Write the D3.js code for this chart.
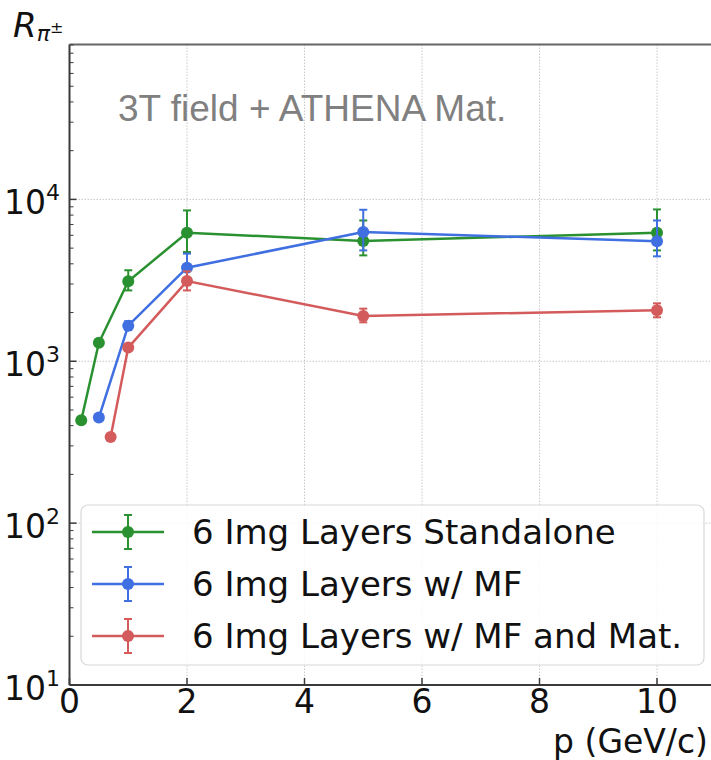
<!DOCTYPE html>
<html>
<head>
<meta charset="utf-8">
<script src="https://cdn.jsdelivr.net/npm/d3@7"></script>
<style>
  body { margin: 0; background: #fff; }
  svg { display: block; font-family: "DejaVu Sans", sans-serif; }
</style>
</head>
<body>
<div id="chart"></div>
<script>
// --数据--
var seriesNames = ["6 Img Layers Standalone", "6 Img Layers w/ MF", "6 Img Layers w/ MF and Mat."];
var seriesColors = ["#2a9130", "#3f6fe0", "#d45b5b"];

var pStandalone = [0.2, 0.5, 1, 2, 5, 10];
var rStandalone = [432, 1300, 3120, 6230, 5530, 6230];
var loStandalone = [415, 1250, 2740, 4730, 4510, 4840];
var hiStandalone = [450, 1350, 3650, 8550, 7410, 8670];

var pMF = [0.5, 1, 2, 5, 10];
var rMF = [449, 1660, 3785, 6285, 5508];
var loMF = [435, 1560, 3120, 4840, 4450];
var hiMF = [463, 1770, 4625, 8630, 7410];

var pMat = [0.7, 1, 2, 5, 10];
var rMat = [341, 1215, 3130, 1905, 2067];
var loMat = [330, 1170, 2740, 1740, 1870];
var hiMat = [352, 1260, 3595, 2114, 2280];

var xTicks = [0, 2, 4, 6, 8, 10];
var yTicks = [10, 100, 1000, 10000];

var series = [
    { p: pStandalone, r: rStandalone, lo: loStandalone, hi: hiStandalone },
    { p: pMF, r: rMF, lo: loMF, hi: hiMF },
    { p: pMat, r: rMat, lo: loMat, hi: hiMat }
].map(function (s, i) {
    return {
        name: seriesNames[i],
        color: seriesColors[i],
        pts: s.p.map(function (p, j) {
            return { p: p, r: s.r[j], lo: s.lo[j], hi: s.hi[j] };
        })
    };
});

// --画布--
var W = 711, H = 760;
var mLeft = 69.5, mTop = 44.5, mBottom = 685;
var svg = d3.select("#chart").append("svg").attr("width", W).attr("height", H);

var x = d3.scaleLinear().domain([0, 11]).range([mLeft, mLeft + 11 * 58.75]);
var y = d3.scaleLog().domain([10, Math.pow(10, 4.957)]).range([mBottom, mTop]);
var mRight = x(11);

// --网格--
var grid = svg.append("g");
grid.selectAll(".gx").data(xTicks.slice(1)).enter().append("line")
    .attr("x1", d => x(d)).attr("x2", d => x(d))
    .attr("y1", mTop).attr("y2", mBottom)
    .attr("stroke", "#c8c8c8").attr("stroke-width", 1).attr("stroke-dasharray", "1.5,1.5");
grid.selectAll(".gy").data(yTicks.slice(1)).enter().append("line")
    .attr("x1", mLeft).attr("x2", mRight)
    .attr("y1", d => y(d)).attr("y2", d => y(d))
    .attr("stroke", "#c8c8c8").attr("stroke-width", 1).attr("stroke-dasharray", "1.5,1.5");

// --注释文字--
svg.append("text")
    .attr("x", 118).attr("y", 121)
    .attr("font-family", "Liberation Sans, Arial, sans-serif")
    .attr("font-size", 37).attr("fill", "#808080")
    .text("3T field + ATHENA Mat.");

// --数据线--
var line = d3.line().x(d => x(d.p)).y(d => y(d.r));
var gs = svg.selectAll(".series").data(series).enter().append("g");
gs.append("path")
    .attr("d", d => line(d.pts))
    .attr("fill", "none").attr("stroke", d => d.color).attr("stroke-width", 2.5);
gs.each(function (s) {
    var g = d3.select(this);
    var eb = g.selectAll(".eb").data(s.pts).enter().append("g");
    eb.append("line")
        .attr("x1", d => x(d.p)).attr("x2", d => x(d.p))
        .attr("y1", d => y(d.lo)).attr("y2", d => y(d.hi))
        .attr("stroke", s.color).attr("stroke-width", 2);
    ["lo", "hi"].forEach(function (k) {
        eb.append("line")
            .attr("x1", d => x(d.p) - 4).attr("x2", d => x(d.p) + 4)
            .attr("y1", d => y(d[k])).attr("y2", d => y(d[k]))
            .attr("stroke", s.color).attr("stroke-width", 2);
    });
    eb.append("circle")
        .attr("cx", d => x(d.p)).attr("cy", d => y(d.r))
        .attr("r", 6).attr("fill", s.color);
});

// --坐标轴--
var ax = svg.append("g").attr("stroke", "#3a3a3a");
ax.append("line").attr("x1", mLeft).attr("x2", mLeft).attr("y1", mTop).attr("y2", mBottom).attr("stroke-width", 2);
ax.append("line").attr("x1", mLeft).attr("x2", mRight).attr("y1", mBottom).attr("y2", mBottom).attr("stroke-width", 2);
ax.append("line").attr("x1", mLeft).attr("x2", mRight).attr("y1", mTop).attr("y2", mTop).attr("stroke-width", 2).attr("stroke", "#666");

// x ticks (inward)
ax.selectAll(".xt").data(xTicks).enter().append("line")
    .attr("x1", d => x(d)).attr("x2", d => x(d))
    .attr("y1", mBottom).attr("y2", mBottom - 7).attr("stroke-width", 1.5);
svg.selectAll(".xl").data(xTicks).enter().append("text")
    .attr("x", d => x(d)).attr("y", 713)
    .attr("text-anchor", "middle").attr("font-size", 33).attr("fill", "#111")
    .text(d => d);

// y ticks major + minor (inward)
var minor = [];
[10, 100, 1000, 10000].forEach(function (b) {
    for (var k = 2; k <= 9; k++) if (b * k <= y.domain()[1]) minor.push(b * k);
});
ax.selectAll(".ymn").data(minor).enter().append("line")
    .attr("x1", mLeft).attr("x2", mLeft + 4)
    .attr("y1", d => y(d)).attr("y2", d => y(d)).attr("stroke-width", 1);
ax.selectAll(".ymj").data(yTicks).enter().append("line")
    .attr("x1", mLeft).attr("x2", mLeft + 7)
    .attr("y1", d => y(d)).attr("y2", d => y(d)).attr("stroke-width", 1.5);
var yl = svg.selectAll(".yl").data(yTicks).enter().append("text")
    .attr("x", 60).attr("y", d => y(d) + 15)
    .attr("text-anchor", "end").attr("font-size", 33).attr("fill", "#111");
yl.append("tspan").text("10");
yl.append("tspan").attr("font-size", 22).attr("dy", -14).text(d => Math.round(Math.log10(d)));

// axis titles
svg.append("text").attr("x", 708).attr("y", 753).attr("text-anchor", "end")
    .attr("font-size", 33).attr("fill", "#111").text("p (GeV/c)");
var yt = svg.append("text").attr("x", 13).attr("y", 37).attr("fill", "#111");
yt.append("tspan").attr("font-size", 34).attr("font-style", "italic").text("R");
yt.append("tspan").attr("font-size", 22).attr("font-style", "italic").attr("dy", 4).text("π");
yt.append("tspan").attr("font-size", 16).attr("dy", -8).text("±");

// --图例--
var lg = svg.append("g");
lg.append("rect")
    .attr("x", 81).attr("y", 505).attr("width", 623).attr("height", 160).attr("rx", 7)
    .attr("fill", "#fff").attr("fill-opacity", 0.85).attr("stroke", "#d8d8d8").attr("stroke-width", 1.2);
var li = lg.selectAll(".li").data(series).enter().append("g")
    .attr("transform", (d, i) => "translate(0," + (532 + i * 52) + ")");
li.append("line").attr("x1", 92).attr("x2", 164).attr("y1", 0).attr("y2", 0)
    .attr("stroke", d => d.color).attr("stroke-width", 2.5);
li.append("line").attr("x1", 128).attr("x2", 128).attr("y1", -17).attr("y2", 17)
    .attr("stroke", d => d.color).attr("stroke-width", 2);
li.append("line").attr("x1", 124).attr("x2", 132).attr("y1", -17).attr("y2", -17)
    .attr("stroke", d => d.color).attr("stroke-width", 2);
li.append("line").attr("x1", 124).attr("x2", 132).attr("y1", 17).attr("y2", 17)
    .attr("stroke", d => d.color).attr("stroke-width", 2);
li.append("circle").attr("cx", 128).attr("cy", 0).attr("r", 6).attr("fill", d => d.color);
li.append("text").attr("x", 192).attr("y", 12)
    .attr("font-size", 34).attr("fill", "#111")
    .text(d => d.name);
</script>
</body>
</html>
